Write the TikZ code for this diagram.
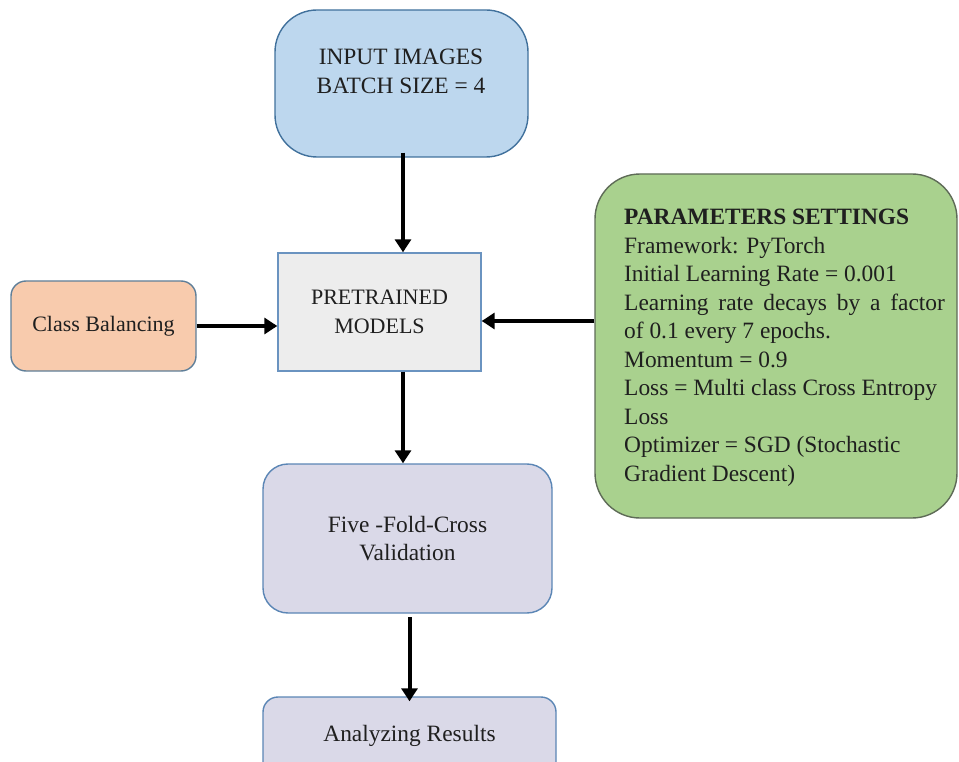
\documentclass[tikz,border=0pt]{standalone}
\usepackage{fontspec}
\setmainfont{Liberation Serif}
\usetikzlibrary{arrows.meta}

\definecolor{inblue}{HTML}{BDD7EE}
\definecolor{inborder}{HTML}{41719C}
\definecolor{pregray}{HTML}{EDEDED}
\definecolor{preborder}{HTML}{6A93C0}
\definecolor{peach}{HTML}{F8CBAD}
\definecolor{peachborder}{HTML}{5F7F99}
\definecolor{paramgreen}{HTML}{A9D18E}
\definecolor{greenborder}{HTML}{5E6B57}
\definecolor{lavender}{HTML}{DAD9E8}
\definecolor{lavborder}{HTML}{5B86B5}

\tikzset{
  box/.style={draw, line width=1.4pt, inner sep=0pt},
  lbl/.style={font=\fontsize{23.4}{28.5}\selectfont, align=center, inner sep=0pt, text=black!88},
  smalllbl/.style={lbl, font=\fontsize{22}{28.5}\selectfont},
  flow/.style={line width=4pt, -{Triangle[length=13pt,width=16pt]}},
}

\begin{document}
\begin{tikzpicture}[x=1pt,y=-1pt]
\useasboundingbox (0,0) rectangle (959,762);
\clip (0,0) rectangle (959,762);

% boxes
\node[box, fill=inblue, draw=inborder, rounded corners=42pt,
      minimum width=253pt, minimum height=147pt] (input) at (401.5,83.5) {};
\node[box, fill=pregray, draw=preborder,
      minimum width=203pt, minimum height=118pt] (pre) at (379.5,312) {};
\node[box, fill=peach, draw=peachborder, rounded corners=15pt,
      minimum width=185pt, minimum height=90pt] (cls) at (103.5,326) {};
\node[box, fill=paramgreen, draw=greenborder, rounded corners=45pt,
      minimum width=362pt, minimum height=344pt] (param) at (776,346) {};
\node[box, fill=lavender, draw=lavborder, rounded corners=25pt,
      minimum width=289pt, minimum height=149pt] (fold) at (407.5,538.5) {};
\node[box, fill=lavender, draw=lavborder, rounded corners=15pt,
      minimum width=293pt, minimum height=100pt] (res) at (409.5,747) {};

% texts
\node[lbl, anchor=base] (inputA) at (401,65) {INPUT IMAGES};
\node[lbl, anchor=base] (inputB) at (401,93.5) {BATCH SIZE = 4};
\node[smalllbl] (preT) at (pre.center) {PRETRAINED\\MODELS};
\node[smalllbl] (clsT) at (cls.center) {Class Balancing};
\node[lbl, anchor=base] (foldA) at (407.5,532) {Five -Fold-Cross};
\node[lbl, anchor=base] (foldB) at (407.5,560.5) {Validation};
\node[lbl, anchor=base] (resT) at (409.5,741) {Analyzing Results};
\node[lbl, anchor=base west] (paramT) at (624,225) {%
  \begin{tabular}[t]{@{}l@{}}
  \textbf{PARAMETERS SETTINGS}\\
  Framework: PyTorch\\
  Initial Learning Rate = 0.001\\
  {\spaceskip=0.42em plus 0.1em Learning rate decays by a factor}\\
  of 0.1 every 7 epochs.\\
  Momentum = 0.9\\
  Loss = Multi class Cross Entropy\\
  Loss\\
  Optimizer = SGD (Stochastic\\
  Gradient Descent)
  \end{tabular}};

% connectors
\draw[flow] ([xshift=1.5pt,yshift=5pt]input.south) -- ([xshift=23.5pt]pre.north);
\draw[flow] (cls.east) -- (pre.west |- cls.east);
\draw[flow] (param.west |- 0,321) -- (pre.east |- 0,321);
\draw[flow] ([xshift=23.5pt]pre.south) -- ([xshift=-4.5pt]fold.north);
\draw[flow] (res.north |- 0,617) -- ([yshift=-5pt]res.north);
\end{tikzpicture}
\end{document}
